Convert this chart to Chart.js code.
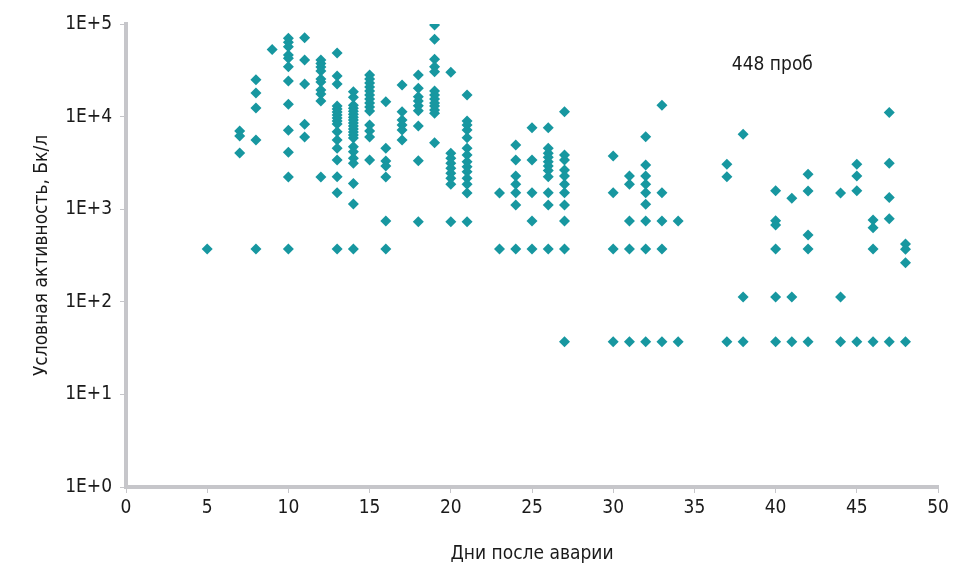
<!DOCTYPE html>
<html>
<head>
<meta charset="utf-8">
<script src="https://cdn.jsdelivr.net/npm/chart.js@4.4.0/dist/chart.umd.min.js"></script>
<style>
  html, body { margin: 0; padding: 0; background: #fff; }
  #wrap { width: 973px; height: 569px; }
</style>
</head>
<body>
<div id="wrap"><canvas id="chart" width="973" height="569"></canvas></div>
<script>
// days after the accident (x) and readings for each day (y, Bq/l)
const days = [5, 7, 8, 9, 10, 11, 12, 13, 14, 15, 16, 17, 18, 19, 20, 21, 23, 24, 25, 26, 27,
  30, 31, 32, 33, 34, 37, 38, 40, 41, 42, 44, 45, 46, 47, 48];

const activity = [
  [372],
  [6980, 6170, 4040],
  [25000, 18000, 12400, 5600, 372],
  [53000],
  [70000, 63400, 56900, 46300, 42600, 34600, 24200, 13600, 7110, 4120, 2230, 372],
  [71100, 40800, 22500, 8260, 6020],
  [40800, 37400, 34300, 31100, 25400, 23600, 19400, 17500, 14700, 2230],
  [48500, 27400, 22500, 13000, 12100, 11200, 10400, 9660, 8960, 8310, 6870, 5590, 4550, 3400, 2240, 1510, 372],
  [18600, 16200, 13300, 12300, 11400, 10600, 9840, 9180, 8530, 7910, 7350, 6820, 6330, 5870, 4730, 4180, 3540, 3130, 1900, 1140, 372],
  [28100, 25500, 23100, 20900, 18900, 17100, 15500, 14000, 12700, 11500, 8120, 6980, 6030, 3400],
  [14500, 4550, 3310, 2930, 2230, 746, 372],
  [21900, 11300, 9180, 8120, 7170, 5590],
  [28100, 20200, 16400, 14700, 13100, 11600, 7910, 3340, 733],
  [97500, 68400, 41600, 34600, 30500, 18900, 17100, 15500, 14000, 13000, 11800, 10900, 5230],
  [30100, 4020, 3550, 3130, 2770, 2440, 2160, 1860, 733],
  [17100, 8960, 8120, 7170, 5920, 4550, 3850, 3260, 2880, 2540, 2160, 1860, 1500, 733],
  [1500, 372],
  [4930, 3400, 2290, 1860, 1510, 1110, 372],
  [7590, 3400, 1510, 746, 372],
  [7590, 4550, 4020, 3630, 3260, 2930, 2610, 2240, 1510, 1110, 372],
  [11300, 3850, 3400, 2650, 2290, 1860, 1510, 1110, 746, 372, 37],
  [3750, 1510, 372, 37],
  [2290, 1860, 746, 372, 37],
  [6070, 3000, 2290, 1860, 1510, 1130, 746, 372, 37],
  [13300, 1510, 746, 372, 37],
  [746, 37],
  [3050, 2240, 37],
  [6440, 113, 37],
  [1580, 751, 675, 372, 113, 37],
  [1310, 113, 37],
  [2380, 1570, 527, 372, 37],
  [1500, 113, 37],
  [3050, 2290, 1580, 37],
  [764, 631, 372, 37],
  [11100, 3130, 1340, 789, 37],
  [421, 369, 264, 37]
];

const yTickValues = [1, 10, 100, 1000, 10000, 100000];
const yTickLabels = ['1E+0', '1E+1', '1E+2', '1E+3', '1E+4', '1E+5'];

const noteText = '448 проб';
const notePos = { x: 39.8, y: 36000 };

const FONT = "'DejaVu Sans Condensed', 'Liberation Sans Narrow', sans-serif";
const AXIS = '#c6c6ca';
const TEXT = '#1a1a1a';
const MARK = '#1797a0';

const points = [];
days.forEach((d, i) => {
  activity[i].forEach(v => points.push({ x: d, y: v }));
});

// label in the upper right part of the plot
const notePlugin = {
  id: 'note',
  afterDatasetsDraw(chart) {
    const { ctx, scales } = chart;
    ctx.save();
    ctx.font = "19px " + FONT;
    ctx.fillStyle = TEXT;
    ctx.textAlign = 'center';
    ctx.textBaseline = 'middle';
    ctx.fillText(noteText, scales.x.getPixelForValue(notePos.x), scales.y.getPixelForValue(notePos.y));
    ctx.restore();
  }
};

new Chart(document.getElementById('chart'), {
  type: 'scatter',
  data: {
    datasets: [{
      data: points,
      pointStyle: 'rectRot',
      pointRadius: 5.5,
      pointHoverRadius: 5.5,
      backgroundColor: MARK,
      borderColor: MARK,
      borderWidth: 0
    }]
  },
  options: {
    responsive: false,
    animation: false,
    layout: { padding: { top: 24, right: 35, left: 0, bottom: 0 } },
    plugins: {
      legend: { display: false },
      tooltip: { enabled: false }
    },
    scales: {
      x: {
        type: 'linear',
        min: 0,
        max: 50,
        border: { color: AXIS, width: 4 },
        grid: { drawOnChartArea: false, color: AXIS, tickLength: 6, tickWidth: 1 },
        ticks: { stepSize: 5, color: TEXT, padding: 4, font: { family: FONT, size: 19 } },
        title: {
          display: true,
          text: 'Дни после аварии',
          color: TEXT,
          font: { family: FONT, size: 19 },
          padding: { top: 20 }
        },
        afterFit(scale) { scale.height = 82; }
      },
      y: {
        type: 'logarithmic',
        min: 1,
        max: 100000,
        border: { color: AXIS, width: 4 },
        grid: { drawOnChartArea: false, color: AXIS, tickLength: 6, tickWidth: 1 },
        afterBuildTicks(scale) {
          scale.ticks = yTickValues.map(v => ({ value: v }));
        },
        ticks: {
          color: TEXT,
          padding: 8,
          font: { family: FONT, size: 19 },
          callback: (value) => yTickLabels[yTickValues.indexOf(value)]
        },
        title: {
          display: true,
          text: 'Условная активность, Бк/л',
          color: TEXT,
          font: { family: FONT, size: 19 },
          padding: { top: 31 }
        },
        afterFit(scale) { scale.width = 126; }
      }
    }
  },
  plugins: [notePlugin]
});
</script>
</body>
</html>
